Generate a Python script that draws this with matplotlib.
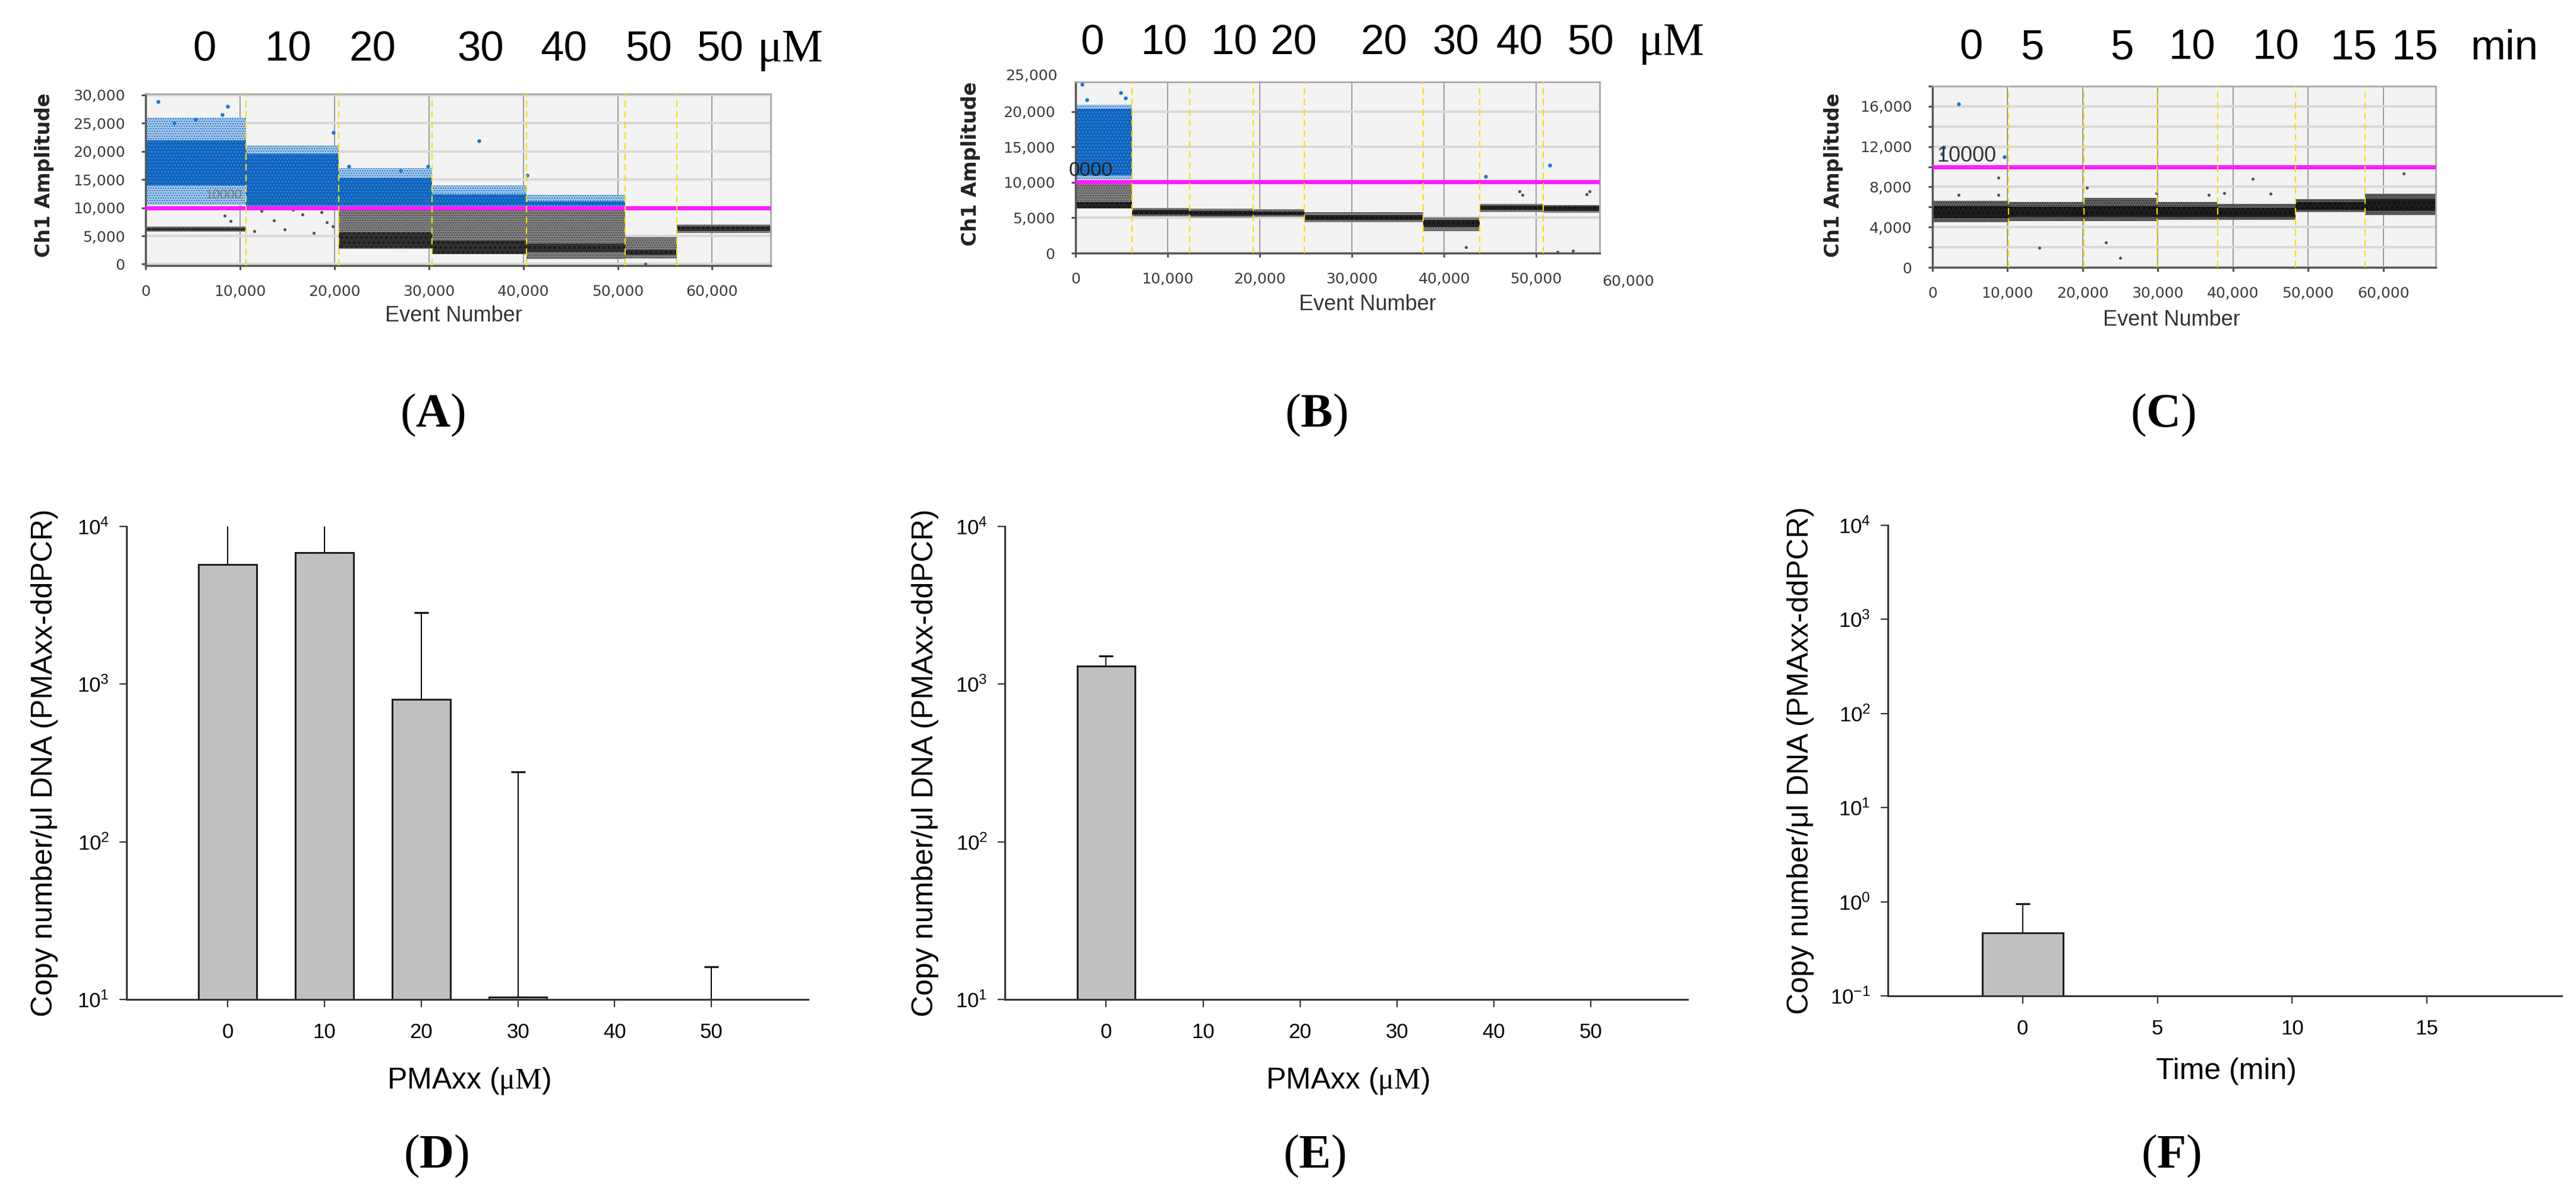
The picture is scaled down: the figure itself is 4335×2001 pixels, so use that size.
import numpy as np
import matplotlib
matplotlib.use('Agg')
import matplotlib.pyplot as plt
from matplotlib import font_manager, ticker
from matplotlib.transforms import blended_transform_factory

nan = np.nan

# ---------------- droplet plots (A, B, C) ----------------
# well boundaries (event number) and the cluster bands of each well (amplitude)
a_edges = [0, 10650, 20470, 30350, 40350, 50770, 56240, 66200]
a_lanes = ['0', '10', '20', '30', '40', '50', '50']
a_pos_lo = [10500, 10300, 10300, 10300, 10300, nan, nan]
a_pos_hi = [26000, 21000, 17000, 14000, 12300, nan, nan]
a_pos_core_lo = [14000, 10400, 10400, 10400, 10400, nan, nan]
a_pos_core_hi = [22000, 19500, 15300, 12400, 11100, nan, nan]
a_neg_lo = [5700, nan, 2700, 1700, 900, 1000, 5500]
a_neg_hi = [6700, nan, 9900, 9900, 9900, 4800, 7000]
a_neg_core_lo = [6000, nan, 2900, 1800, 2200, 1600, 5800]
a_neg_core_hi = [6400, nan, 5600, 4200, 3600, 2600, 6700]
a_blue_x = [1350, 8700, 8100, 5300, 3000, 19900, 29900, 35300, 40400, 21500, 27000]
a_blue_y = [28800, 28000, 26500, 25600, 25000, 23300, 17300, 21900, 15800, 17300, 16600]
a_gray_x = [11500, 12300, 13600, 14700, 15600, 16600, 17800, 18600, 19200, 19800, 9000, 8400, 52900]
a_gray_y = [5800, 9400, 7700, 6200, 9600, 8800, 5500, 9200, 7400, 6700, 7600, 8600, 0]
a_threshold = 10000

b_edges = [0, 6110, 12400, 19280, 24850, 37730, 43890, 50780, 56900]
b_lanes = ['0', '10', '10', '20', '20', '30', '40', '50']
b_pos_lo = [10400, nan, nan, nan, nan, nan, nan, nan]
b_pos_hi = [21000, nan, nan, nan, nan, nan, nan, nan]
b_pos_core_lo = [11000, nan, nan, nan, nan, nan, nan, nan]
b_pos_core_hi = [20400, nan, nan, nan, nan, nan, nan, nan]
b_neg_lo = [6300, 5200, 5000, 5100, 4400, 3100, 5800, 5700]
b_neg_hi = [9900, 6400, 6300, 6200, 5800, 5000, 7000, 6800]
b_neg_core_lo = [6400, 5500, 5300, 5400, 4700, 3700, 6100, 6000]
b_neg_core_hi = [7200, 6100, 6000, 5900, 5400, 4700, 6700, 6600]
b_blue_x = [700, 1200, 4900, 5400, 44500, 51500]
b_blue_y = [23900, 21700, 22700, 21900, 10800, 12400]
b_gray_x = [48200, 48500, 55500, 55800, 42400, 52300, 54000]
b_gray_y = [8700, 8200, 8300, 8700, 800, 150, 300]
b_threshold = 10050

c_edges = [0, 10150, 20150, 29930, 37930, 48300, 57560, 67000]
c_lanes = ['0', '5', '5', '10', '10', '15', '15']
c_neg_lo = [4500, 4600, 4600, 4700, 4700, 5500, 5200]
c_neg_hi = [6600, 6500, 6900, 6500, 6300, 6800, 7300]
c_neg_core_lo = [4900, 5000, 5000, 5000, 5000, 5700, 5600]
c_neg_core_hi = [6100, 6000, 6100, 6000, 5900, 6500, 6800]
c_blue_x = [3500, 1500, 9600, 1300]
c_blue_y = [16200, 11900, 11000, 11300]
c_gray_x = [8800, 8800, 3500, 14200, 20600, 23100, 25000, 36800, 38800, 42600, 45000, 62700, 24500, 29800]
c_gray_y = [8900, 7200, 7200, 1950, 7900, 2450, 950, 7200, 7400, 8800, 7300, 9300, 6800, 7400]
c_threshold = 10000

# ---------------- bar charts (D, E, F) ----------------
d_conc = [0, 10, 20, 30, 40, 50]
d_mean = [5735, 6820, 800, 10.35, 0, 0]
d_sd = [6000, 4800, 2040, 267, 0, 16.1]

e_conc = [0, 10, 20, 30, 40, 50]
e_mean = [1297, 0, 0, 0, 0, 0]
e_sd = [206, 0, 0, 0, 0, 0]

f_time = [0, 5, 10, 15]
f_mean = [0.469, 0, 0, 0]
f_sd = [0.488, 0, 0, 0]


def pick_font(names):
    have = {f.name for f in font_manager.fontManager.ttflist}
    for n in names:
        if n in have:
            return n
    return 'DejaVu Sans'


SANS = pick_font(['Liberation Sans', 'Arial'])
SERIF = pick_font(['Liberation Serif', 'Times New Roman'])

plt.rcParams['font.family'] = [SANS, 'DejaVu Sans']
plt.rcParams['mathtext.fontset'] = 'custom'
plt.rcParams['mathtext.rm'] = SERIF
plt.rcParams['mathtext.bf'] = SERIF + ':bold'
plt.rcParams['mathtext.it'] = SERIF + ':italic'
plt.rcParams['hatch.linewidth'] = 1.6

W, H = 4335, 2001
fig = plt.figure(figsize=(W / 100, H / 100), dpi=100)

TICK_GRAY = '#3c3c3c'


def axes_px(left, top, right, bottom):
    return fig.add_axes([left / W, 1 - bottom / H, (right - left) / W, (bottom - top) / H])


def droplet_panel(ax, edges, bands, blue, gray, threshold, xlim, ylim,
                  ymajor, yminor, lanes, lane_x, lane_y, unit, unit_x, unit_serif,
                  label_xy, ev_xy):
    ax.set_facecolor('#f3f3f3')
    edges = np.asarray(edges, float)
    left = edges[:-1]
    width = np.diff(edges)
    for lo, hi, face, dots, hatch in bands:
        lo = np.asarray(lo, float)
        hi = np.asarray(hi, float)
        ok = ~np.isnan(lo)
        ax.bar(left[ok], hi[ok] - lo[ok], bottom=lo[ok], width=width[ok],
               align='edge', color=face, edgecolor=dots, hatch=hatch, lw=0, zorder=2)
    ax.scatter(blue[0], blue[1], s=22, color='#1a78d6', lw=0, zorder=3)
    ax.scatter(gray[0], gray[1], s=14, color='#555555', lw=0, zorder=3)
    ax.axhline(threshold, color='#ff1aff', lw=5, zorder=4)
    ax.vlines(edges[1:-1], ylim[0], ylim[1], colors='#f2e200',
              linestyles=(0, (5, 3)), lw=1.6, zorder=5)

    ax.set_xlim(*xlim)
    ax.set_ylim(*ylim)
    ax.set_xticks(np.arange(0, xlim[1], 10000))
    ax.set_yticks(ymajor)
    ax.set_yticks(yminor, minor=True)
    fmt = ticker.StrMethodFormatter('{x:,.0f}')
    ax.xaxis.set_major_formatter(fmt)
    ax.yaxis.set_major_formatter(fmt)
    ax.yaxis.grid(True, which='both', color='#d9d9d9', lw=3, zorder=0)
    ax.xaxis.grid(True, which='major', color='#8a8a8a', lw=1.2, zorder=0)
    ax.set_axisbelow(True)
    ax.tick_params(axis='both', which='both', direction='out', length=5, width=2,
                   color='#444444', labelsize=18, labelcolor=TICK_GRAY)
    for lab in ax.get_xticklabels() + ax.get_yticklabels():
        lab.set_family('DejaVu Sans')
    ax.tick_params(axis='x', pad=18)
    ax.tick_params(axis='y', pad=20)
    for s in ['left', 'bottom']:
        ax.spines[s].set_color('#555555')
        ax.spines[s].set_linewidth(2.5)
    for s in ['top', 'right']:
        ax.spines[s].set_color('#a8a8a8')
        ax.spines[s].set_linewidth(2)

    ax.set_ylabel('Ch1 Amplitude', family='DejaVu Sans', fontweight='bold',
                  fontsize=24, color='#222222', va='center')
    ax.yaxis.set_label_coords(*label_xy)
    ax.set_xlabel('Event Number', fontsize=26, color='#333333', va='center')
    ax.xaxis.set_label_coords(*ev_xy)

    tr = blended_transform_factory(ax.transData, ax.transAxes)
    for s, x in zip(lanes, lane_x):
        ax.text(x, lane_y, s, transform=tr, ha='center', va='center', fontsize=51)
    ax.text(unit_x, lane_y, unit, transform=tr, ha='center', va='center',
            fontsize=56 if unit_serif else 51, family=SERIF if unit_serif else SANS)


# ---- A ----
axA = axes_px(245, 158, 1297, 447)
droplet_panel(axA, a_edges,
              [(a_pos_lo, a_pos_hi, '#c4daf0', '#1f74cc', '....'),
               (a_pos_core_lo, a_pos_core_hi, '#0f61ba', '#2c82d8', '...'),
               (a_neg_lo, a_neg_hi, '#8d8d8d', '#4a4a4a', '....'),
               (a_neg_core_lo, a_neg_core_hi, '#303030', '#151515', '..')],
              (a_blue_x, a_blue_y), (a_gray_x, a_gray_y), a_threshold,
              (0, 66200), (-265, 30180), np.arange(0, 30001, 5000), [],
              a_lanes, [6200, 15100, 24000, 35500, 44300, 53300, 60800], 1.256,
              'μM', 68300, True, (-0.162, 0.526), (0.493, -0.294))
axA.text(6300, 11600, '10000', fontsize=16, color='#777777', zorder=6)

# ---- B ----
axB = axes_px(1810, 138, 2692, 426)
droplet_panel(axB, b_edges,
              [(b_pos_lo, b_pos_hi, '#c4daf0', '#1f74cc', '....'),
               (b_pos_core_lo, b_pos_core_hi, '#0f61ba', '#2c82d8', '...'),
               (b_neg_lo, b_neg_hi, '#8d8d8d', '#4a4a4a', '....'),
               (b_neg_core_lo, b_neg_core_hi, '#222222', '#111111', '..')],
              (b_blue_x, b_blue_y), (b_gray_x, b_gray_y), b_threshold,
              (0, 56900), (0, 24200), np.arange(0, 20001, 5000), [],
              b_lanes, [1800, 9600, 17200, 23650, 33500, 41300, 48200, 55900], 1.224,
              'μM', 64700, True, (-0.2, 0.52), (0.557, -0.30))
axB.text(-700, 10900, '0000', fontsize=24, color='#222222', zorder=6, clip_on=False)
trB = blended_transform_factory(axB.transData, axB.transAxes)
axB.text(60000, -0.165, '60,000', transform=trB, ha='center', va='center',
         fontsize=18, color=TICK_GRAY, family='DejaVu Sans')
axB.text(-1950, 25000, '25,000', ha='right', va='center', fontsize=18,
         color=TICK_GRAY, family='DejaVu Sans')

# ---- C ----
axC = axes_px(3252, 145, 4099, 450)
droplet_panel(axC, c_edges,
              [(c_neg_lo, c_neg_hi, '#6f6f6f', '#303030', '....'),
               (c_neg_core_lo, c_neg_core_hi, '#1c1c1c', '#0c0c0c', '..')],
              (c_blue_x, c_blue_y), (c_gray_x, c_gray_y), c_threshold,
              (0, 67000), (0, 18000), np.arange(0, 16001, 4000), np.arange(2000, 18001, 4000),
              c_lanes, [5100, 13300, 25200, 34600, 45700, 56100, 64200], 1.207,
              'min', 76100, False, (-0.196, 0.508), (0.475, -0.289))
axC.text(600, 10500, '10000', fontsize=26, color='#333333', zorder=6)


# ---------------- bar panels ----------------
def bar_panel(ax, x, mean, sd, floor, top, width, xlim, xlabel, ylab_x, xlab_y):
    x = np.asarray(x, float)
    mean = np.asarray(mean, float)
    sd = np.asarray(sd, float)
    base = np.maximum(mean, floor)
    show = mean > floor
    ax.bar(x[show], mean[show] - floor, bottom=floor, width=width,
           color='#c0c0c0', edgecolor='#1e1e1e', lw=2.2, zorder=2)
    err = sd > 0
    ax.errorbar(x[err], base[err], yerr=[np.zeros(err.sum()), (mean + sd - base)[err]],
                fmt='none', ecolor='black', elinewidth=1.4, capsize=8.5, capthick=2.2, zorder=1)
    ax.set_yscale('log')
    ax.set_ylim(floor, top)
    ax.set_xlim(*xlim)
    ax.set_xticks(x)
    ax.set_xticklabels(['%g' % v for v in x])
    decades = np.arange(np.log10(floor), np.log10(top) + 0.5).astype(int)
    ax.set_yticks(10.0 ** decades)
    ax.set_yticklabels([r'$\mathregular{10^{%d}}$' % d for d in decades])
    ax.yaxis.set_minor_locator(ticker.NullLocator())
    for s in ['top', 'right']:
        ax.spines[s].set_visible(False)
    for s in ['left', 'bottom']:
        ax.spines[s].set_color('#333333')
        ax.spines[s].set_linewidth(2.2)
    ax.tick_params(axis='both', direction='out', length=9, width=1.6, color='#333333',
                   labelsize=25)
    ax.tick_params(axis='x', pad=19)
    ax.tick_params(axis='y', pad=12)
    ax.set_ylabel('Copy number/μl DNA (PMAxx-ddPCR)', fontsize=36, va='center')
    ax.yaxis.set_label_coords(ylab_x, 0.5)
    ax.set_xlabel(xlabel, fontsize=36, va='center')
    ax.xaxis.set_label_coords(0.502, xlab_y)


axD = axes_px(213, 886, 1360, 1682)
bar_panel(axD, d_conc, d_mean, d_sd, 10, 1e4, 6, (-10.45, 60), r'PMAxx ($\mathrm{\mu M}$)',
          -0.12, -0.173)
axE = axes_px(1691, 886, 2840, 1682)
bar_panel(axE, e_conc, e_mean, e_sd, 10, 1e4, 6, (-10.45, 60), r'PMAxx ($\mathrm{\mu M}$)',
          -0.117, -0.173)
axF = axes_px(3177, 884, 4311, 1676)
bar_panel(axF, f_time, f_mean, f_sd, 0.1, 1e4, 3, (-5, 20), 'Time (min)',
          -0.13, -0.160)

# panel letters
for letter, x, y in [('A', 728, 699), ('B', 2215, 699), ('C', 3640, 699),
                     ('D', 734, 1946), ('E', 2212, 1946), ('F', 3654, 1946)]:
    fig.text(x / W, 1 - y / H, '(' + r'$\mathbf{%s}$' % letter + ')', family=SERIF,
             fontsize=58, ha='center', va='center')

fig.savefig('out.png', dpi=100, facecolor='white')
